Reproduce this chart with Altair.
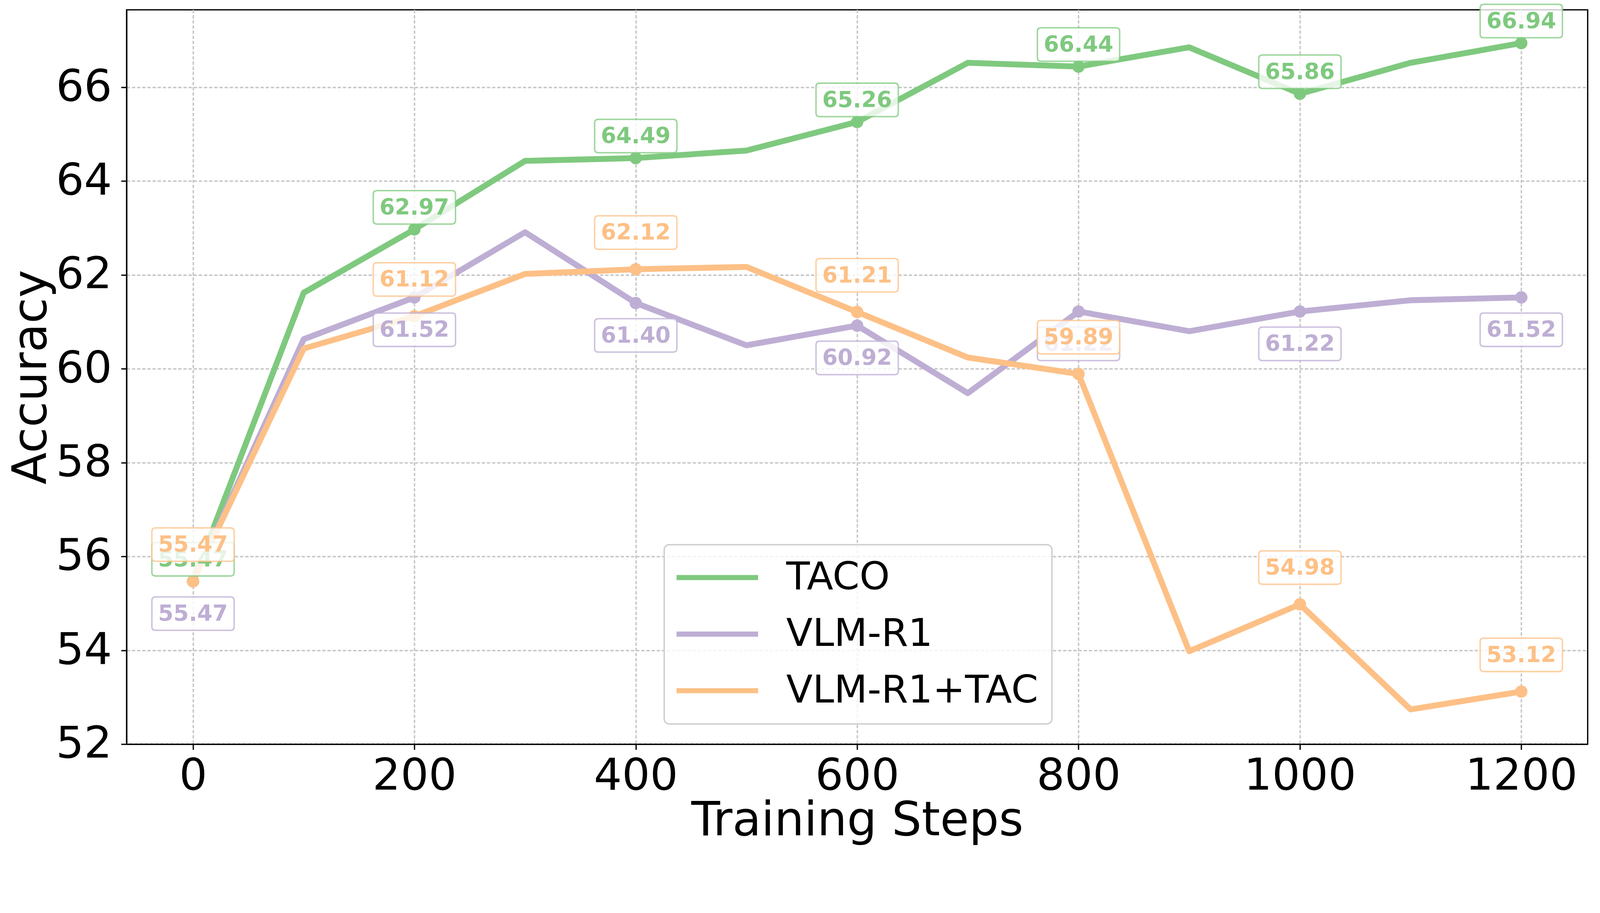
import altair as alt
import pandas as pd

steps = [0, 100, 200, 300, 400, 500, 600, 700, 800, 900, 1000, 1100, 1200]
series_names = ["TACO", "VLM-R1", "VLM-R1+TAC"]
taco = [55.47, 61.62, 62.97, 64.43, 64.49, 64.65, 65.26, 66.52, 66.44, 66.85, 65.86, 66.52, 66.94]
vlm_r1 = [55.47, 60.63, 61.52, 62.91, 61.40, 60.50, 60.92, 59.48, 61.22, 60.80, 61.22, 61.46, 61.52]
vlm_r1_tac = [55.47, 60.43, 61.12, 62.02, 62.12, 62.17, 61.21, 60.24, 59.89, 53.98, 54.98, 52.74, 53.12]
x_ticks = [0, 200, 400, 600, 800, 1000, 1200]
y_ticks = [52, 54, 56, 58, 60, 62, 64, 66]

colors = ["#7fc97f", "#beaed4", "#fdc086"]
label_offsets = [-60, 88, -100]  # TACO above, VLM-R1 below, VLM-R1+TAC above
FONT = "DejaVu Sans"

rows = []
for name, vals in zip(series_names, [taco, vlm_r1, vlm_r1_tac]):
    for s, v in zip(steps, vals):
        rows.append({"step": s, "value": v, "series": name})
df = pd.DataFrame(rows)

xscale = alt.Scale(domain=[-60, 1260], nice=False, zero=False)
yscale = alt.Scale(domain=[52.0, 67.65], nice=False, zero=False)

x_enc = alt.X("step:Q", scale=xscale,
              axis=alt.Axis(values=x_ticks, title="Training Steps", format="d"))
y_enc = alt.Y("value:Q", scale=yscale,
              axis=alt.Axis(values=y_ticks, title="Accuracy", format="d"))

legend_path = "M-3,0H3"
lines = alt.Chart(df).mark_line(strokeWidth=16, strokeJoin="round").encode(
    x=x_enc,
    y=y_enc,
    color=alt.Color(
        "series:N",
        scale=alt.Scale(domain=series_names, range=colors),
        sort=series_names,
        legend=alt.Legend(
            title=None, orient="none", legendX=1463, legendY=1456,
            symbolType=legend_path, symbolSize=5476, symbolStrokeWidth=14,
            symbolOffset=55, labelOffset=135,
            labelFontSize=105, labelFont=FONT, labelColor="black", labelLimit=0,
            padding=37, rowPadding=48,
            strokeColor="#d0d0d0", fillColor="rgba(255,255,255,0.8)",
            cornerRadius=14,
        ),
    ),
    order="step:Q",
)

# rounded label box, unit height (size = box height squared)
box_path = ("M-2.24,-1 H2.24 Q2.46,-1 2.46,-0.78 V0.78 Q2.46,1 2.24,1 "
            "H-2.24 Q-2.46,1 -2.46,0.78 V-0.78 Q-2.46,-1 -2.24,-1 Z")

layers = [lines]
point_layers = []
label_layers = []
for name, col, off in zip(series_names, colors, label_offsets):
    sub = df[(df["series"] == name) & (df["step"] % 200 == 0)]
    base = alt.Chart(sub).encode(x=alt.X("step:Q", scale=xscale),
                                 y=alt.Y("value:Q", scale=yscale))
    point_layers.append(base.mark_point(filled=True, size=1130, opacity=1, color=col))
    label_layers.append(base.mark_point(shape=box_path, size=8281, fill="white",
                                        fillOpacity=0.8, stroke=col, strokeOpacity=0.75,
                                        strokeWidth=4, opacity=1, yOffset=off))
    label_layers.append(base.mark_text(fontSize=60, fontWeight="bold", font=FONT,
                                       color=col, align="center", baseline="middle",
                                       dy=off + 2).encode(
        text=alt.Text("value:Q", format=".2f")))

chart = alt.layer(*(layers + point_layers + label_layers)).properties(
    width=3976, height=1999,
    autosize=alt.AutoSizeParams(type="none"),
    padding={"left": 336, "top": -52, "right": 25, "bottom": 280},
).configure_view(
    stroke="black", strokeWidth=3.5,
).configure_legend(
    strokeWidth=4,
).configure_axis(
    labelFont=FONT, titleFont=FONT, labelFontSize=120, titleFontSize=128,
    labelColor="black", titleColor="black", titleFontWeight="normal",
    domainColor="black", domainWidth=3.5, tickColor="black", tickWidth=3.5,
    tickSize=15, grid=True, gridColor="#c8c8c8", gridWidth=4, gridDash=[9, 5],
    labelLimit=0,
).configure_axisX(
    labelPadding=13, titlePadding=0,
).configure_axisY(
    labelPadding=25, titlePadding=0,
)

chart.save("out.html", embed_options={"renderer": "svg", "actions": False})
